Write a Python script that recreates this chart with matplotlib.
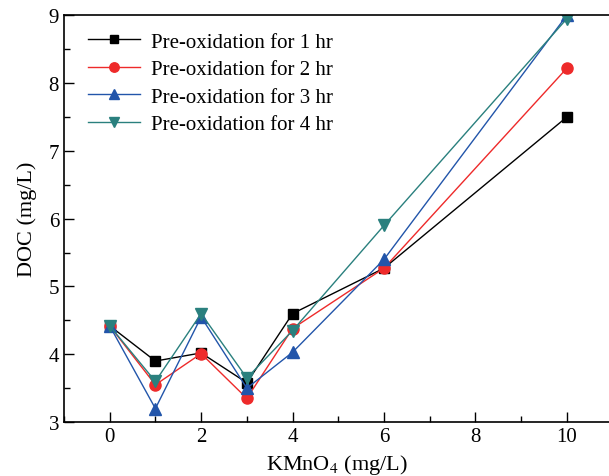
import numpy as np
import matplotlib.pyplot as plt
from matplotlib.ticker import MultipleLocator

plt.rcParams['font.family'] = ['Liberation Serif', 'DejaVu Serif']
plt.rcParams['mathtext.fontset'] = 'stix'

kmno4 = [0, 1, 2, 3, 4, 6, 10]
doc_1hr = [4.42, 3.90, 4.02, 3.58, 4.60, 5.27, 7.50]
doc_2hr = [4.42, 3.55, 4.01, 3.35, 4.38, 5.27, 8.22]
doc_3hr = [4.42, 3.20, 4.55, 3.50, 4.03, 5.40, 9.00]
doc_4hr = [4.42, 3.60, 4.60, 3.65, 4.35, 5.90, 8.95]
labels = ['Pre-oxidation for 1 hr', 'Pre-oxidation for 2 hr',
          'Pre-oxidation for 3 hr', 'Pre-oxidation for 4 hr']

fig = plt.figure(figsize=(6.09, 4.77), dpi=100)
ax = fig.add_axes([0.105, 0.113, 0.895, 0.853])

ax.plot(kmno4, doc_1hr, '-s', color='black', lw=1, ms=7, label=labels[0])
ax.plot(kmno4, doc_2hr, '-o', color='#EE2A2A', lw=1, ms=8, label=labels[1])
ax.plot(kmno4, doc_3hr, '-^', color='#2255AA', lw=1, ms=9, label=labels[2])
ax.plot(kmno4, doc_4hr, '-v', color='#2A807E', lw=1, ms=9, label=labels[3])

ax.set_xlim(-1.0, 10.92)
ax.set_ylim(3, 9)
ax.set_xticks([0, 2, 4, 6, 8, 10])
ax.set_yticks([3, 4, 5, 6, 7, 8, 9])
ax.xaxis.set_minor_locator(MultipleLocator(1))
ax.yaxis.set_minor_locator(MultipleLocator(0.5))
ax.tick_params(which='major', direction='in', labelsize=15, length=7, width=1)
ax.tick_params(which='minor', direction='in', length=4, width=1)
ax.spines['right'].set_visible(False)
for s in ax.spines.values():
    s.set_linewidth(1.2)

ax.set_xlabel('KMnO$_4$ (mg/L)', fontsize=16, labelpad=4)
ax.set_ylabel('DOC (mg/L)', fontsize=16, labelpad=8)
ax.legend(loc='upper left', frameon=False, fontsize=15, handlelength=2.5,
          labelspacing=0.38, markerscale=0.85, handletextpad=0.5,
          bbox_to_anchor=(0.01, 1.005))

fig.savefig('out.png', dpi=100)
